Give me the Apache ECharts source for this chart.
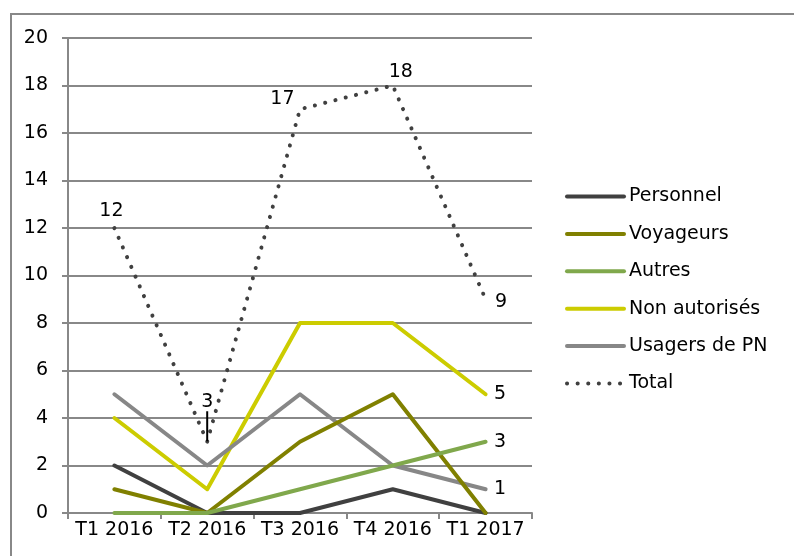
<!DOCTYPE html>
<html><head><meta charset="utf-8">
<script src="https://cdn.jsdelivr.net/npm/echarts@6/dist/echarts.min.js"></script>
<style>html,body{margin:0;padding:0;background:#fff}#c{width:794px;height:556px}</style>
</head><body><div id="c"></div>
<script>
const categories = ['T1 2016', 'T2 2016', 'T3 2016', 'T4 2016', 'T1 2017'];
const personnel = [2, 0, 0, 1, 0];
const voyageurs = [1, 0, 3, 5, 0];
const autres = [0, 0, 1, 2, 3];
const nonAutorises = [4, 1, 8, 8, 5];
const usagersPN = [5, 2, 5, 2, 1];
const total = [12, 3, 17, 18, 9];
const yTicks = [0, 2, 4, 6, 8, 10, 12, 14, 16, 18, 20];

const FONT = 'DejaVu Sans, sans-serif';
const lblFont = {fontFamily: FONT, fontSize: 19, color: '#000'};
const CLEAR = 'rgba(0,0,0,0)';

function lastLabel(arr) {
  return arr.map((v, i) => i === arr.length - 1
    ? {value: v, label: Object.assign({show: true, position: 'right', distance: 8}, lblFont)}
    : v);
}
const totalLabels = [
  {position: 'top', distance: 7},
  {position: 'top', distance: 5},
  {position: 'left', distance: 5},
  {position: 'top', distance: 5},
  {position: 'right', distance: 9}
];
const totalShift = [[-3, 0], [0, -25], [0, -10], [8, 2], [0, 3]];
const totalData = total.map((v, i) => ({
  value: v,
  label: Object.assign({show: true}, lblFont, totalLabels[i]),
  labelLine: {show: i === 1, lineStyle: {color: '#000', width: 2}}
}));

function lineSeries(name, data, color, z) {
  return {name, type: 'line', data, symbol: 'circle', symbolSize: 1, showSymbol: true, z,
    lineStyle: {color, width: 4, cap: 'round', join: 'round'},
    itemStyle: {color: CLEAR}, emphasis: {disabled: true}, animation: false};
}

const chart = echarts.init(document.getElementById('c'), null, {renderer: 'canvas'});
chart.setOption({
  animation: false,
  backgroundColor: '#fff',
  graphic: [{type: 'rect', shape: {x: 11, y: 14, width: 820, height: 600},
    style: {fill: 'none', stroke: '#888', lineWidth: 2}, silent: true, z: -10}],
  grid: {left: 68, right: 262, top: 38, bottom: 43, containLabel: false},
  xAxis: {type: 'category', data: categories, boundaryGap: true,
    axisLine: {lineStyle: {color: '#888', width: 2}},
    axisTick: {show: true, length: 6, lineStyle: {color: '#888', width: 2}},
    axisLabel: {fontFamily: FONT, fontSize: 19, color: '#000', margin: 8, interval: 0},
    splitLine: {show: false}},
  yAxis: {type: 'value', min: yTicks[0], max: yTicks[yTicks.length - 1], interval: 2,
    axisLine: {show: true, lineStyle: {color: '#888', width: 2}},
    axisTick: {show: true, length: 6, lineStyle: {color: '#888', width: 2}},
    axisLabel: {fontFamily: FONT, fontSize: 19, color: '#000', margin: 20},
    splitLine: {show: true, lineStyle: {color: '#888', width: 2}}},
  legend: {orient: 'vertical', left: 560, top: 182, itemWidth: 57, itemHeight: 20, itemGap: 18.4,
    itemStyle: {color: CLEAR, borderWidth: 0},
    lineStyle: {width: 4},
    textStyle: {fontFamily: FONT, fontSize: 19, color: '#000'},
    data: ['Personnel', 'Voyageurs', 'Autres', 'Non autorisés', 'Usagers de PN', 'Total']},
  series: [
    lineSeries('Personnel', personnel, '#404040', 2),
    lineSeries('Voyageurs', voyageurs, '#808000', 3),
    lineSeries('Autres', lastLabel(autres), '#80a84c', 4),
    lineSeries('Non autorisés', lastLabel(nonAutorises), '#cccc00', 2),
    lineSeries('Usagers de PN', lastLabel(usagersPN), '#878787', 2),
    {name: 'Total', type: 'line', data: totalData, symbol: 'circle', symbolSize: 1, showSymbol: true, z: 5,
      lineStyle: {color: '#404040', width: 4, type: [0.1, 10.5], cap: 'round'},
      itemStyle: {color: CLEAR},
      labelLayout: function (p) { const s = totalShift[p.dataIndex]; return {dx: s[0], dy: s[1]}; },
      emphasis: {disabled: true}, animation: false}
  ]
});
</script></body></html>
